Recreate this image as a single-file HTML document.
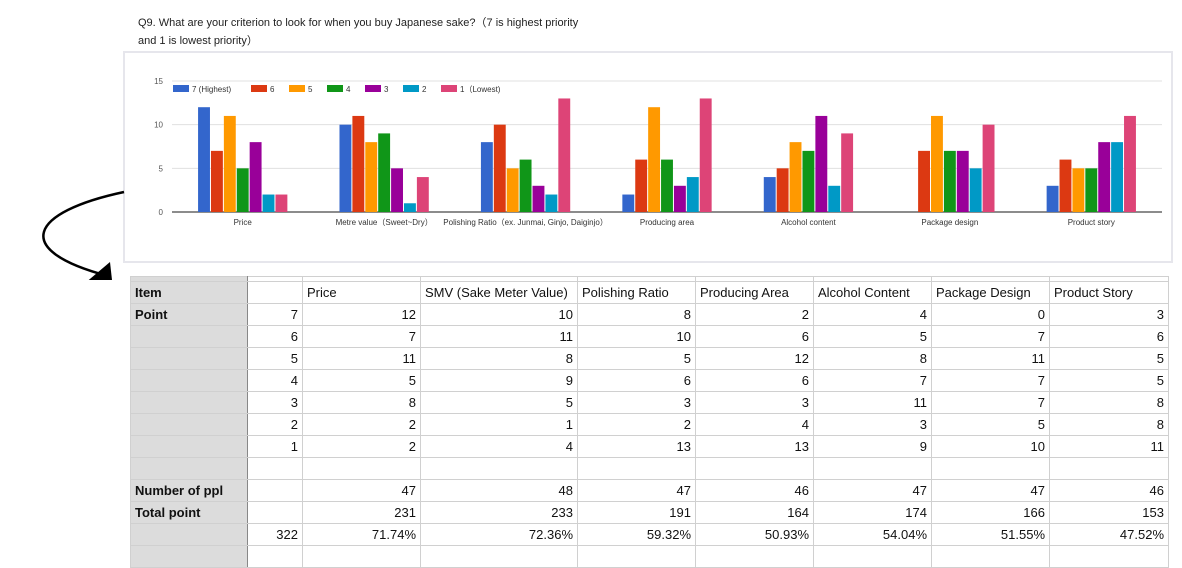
<!DOCTYPE html>
<html><head><meta charset="utf-8">
<style>
body{margin:0;width:1182px;height:558px;background:#fff;position:relative;overflow:hidden;font-family:"Liberation Sans",Arial,sans-serif}
.title{position:absolute;left:138px;top:14px;font-size:11px;line-height:18px;color:#222;white-space:nowrap}
#chart{position:absolute;left:0;top:0}
table{position:absolute;left:130px;top:276px;border-collapse:collapse;table-layout:fixed;font-size:13px;color:#111}
td{border:1px solid #d0d0d0;height:21px;padding:0 4px;white-space:nowrap;overflow:hidden}
td.l{background:#dcdcdc;font-weight:bold;border-right:1px solid #888}
td.n{text-align:right}
tr.top td{height:4px;padding:0}
</style></head><body>
<div class="title">Q9. What are your criterion to look for when you buy Japanese sake?（7 is highest priority<br>and 1 is lowest priority）</div>
<svg id="chart" width="1182" height="280">
<rect x="124" y="52" width="1048" height="210" fill="none" stroke="#e6e6ec" stroke-width="2"/>
<path d="M124,192 C30,212 10,250 108,276" fill="none" stroke="#000" stroke-width="2.5"/>
<polygon points="110,262 84,284 112,280" fill="#000"/>
</svg>
<table>
<colgroup><col style="width:117px"><col style="width:55px"><col style="width:118px"><col style="width:157px"><col style="width:118px"><col style="width:118px"><col style="width:118px"><col style="width:118px"><col style="width:119px"></colgroup>
<tr class="top"><td class="l"></td><td></td><td></td><td></td><td></td><td></td><td></td><td></td><td></td></tr>
<tr><td class="l">Item</td><td></td><td>Price</td><td>SMV (Sake Meter Value)</td><td>Polishing Ratio</td><td>Producing Area</td><td>Alcohol Content</td><td>Package Design</td><td>Product Story</td></tr>
<tr><td class="l">Point</td><td class="n">7</td><td class="n">12</td><td class="n">10</td><td class="n">8</td><td class="n">2</td><td class="n">4</td><td class="n">0</td><td class="n">3</td></tr>
<tr><td class="l"></td><td class="n">6</td><td class="n">7</td><td class="n">11</td><td class="n">10</td><td class="n">6</td><td class="n">5</td><td class="n">7</td><td class="n">6</td></tr>
<tr><td class="l"></td><td class="n">5</td><td class="n">11</td><td class="n">8</td><td class="n">5</td><td class="n">12</td><td class="n">8</td><td class="n">11</td><td class="n">5</td></tr>
<tr><td class="l"></td><td class="n">4</td><td class="n">5</td><td class="n">9</td><td class="n">6</td><td class="n">6</td><td class="n">7</td><td class="n">7</td><td class="n">5</td></tr>
<tr><td class="l"></td><td class="n">3</td><td class="n">8</td><td class="n">5</td><td class="n">3</td><td class="n">3</td><td class="n">11</td><td class="n">7</td><td class="n">8</td></tr>
<tr><td class="l"></td><td class="n">2</td><td class="n">2</td><td class="n">1</td><td class="n">2</td><td class="n">4</td><td class="n">3</td><td class="n">5</td><td class="n">8</td></tr>
<tr><td class="l"></td><td class="n">1</td><td class="n">2</td><td class="n">4</td><td class="n">13</td><td class="n">13</td><td class="n">9</td><td class="n">10</td><td class="n">11</td></tr>
<tr><td class="l"></td><td></td><td></td><td></td><td></td><td></td><td></td><td></td><td></td></tr>
<tr><td class="l">Number of ppl</td><td></td><td class="n">47</td><td class="n">48</td><td class="n">47</td><td class="n">46</td><td class="n">47</td><td class="n">47</td><td class="n">46</td></tr>
<tr><td class="l">Total point</td><td></td><td class="n">231</td><td class="n">233</td><td class="n">191</td><td class="n">164</td><td class="n">174</td><td class="n">166</td><td class="n">153</td></tr>
<tr><td class="l"></td><td class="n">322</td><td class="n">71.74%</td><td class="n">72.36%</td><td class="n">59.32%</td><td class="n">50.93%</td><td class="n">54.04%</td><td class="n">51.55%</td><td class="n">47.52%</td></tr>
<tr><td class="l"></td><td></td><td></td><td></td><td></td><td></td><td></td><td></td><td></td></tr>
</table>
<script>
const categories=["Price","Metre value（Sweet~Dry）","Polishing Ratio（ex. Junmai, Ginjo, Daiginjo）","Producing area","Alcohol content","Package design","Product story"];
const seriesNames=["7 (Highest)","6","5","4","3","2","1（Lowest)"];
const s7=[12,10,8,2,4,0,3];
const s6=[7,11,10,6,5,7,6];
const s5=[11,8,5,12,8,11,5];
const s4=[5,9,6,6,7,7,5];
const s3=[8,5,3,3,11,7,8];
const s2=[2,1,2,4,3,5,8];
const s1=[2,4,13,13,9,10,11];
const yTicks=[0,5,10,15];
const series=[s7,s6,s5,s4,s3,s2,s1];
const colors=["#3366cc","#dc3912","#ff9900","#109618","#990099","#0099c6","#dd4477"];
const svg=document.getElementById('chart');
const NS='http://www.w3.org/2000/svg';
const L=172,R=1162,Y0=212,Y15=81;
const y=v=>Y0-(v/15)*(Y0-Y15);
const band=(R-L)/categories.length;
const bw=12.9;
function mk(t,a){const e=document.createElementNS(NS,t);for(const k in a)e.setAttribute(k,a[k]);svg.appendChild(e);return e;}
yTicks.forEach(t=>{
  const g=mk('line',{x1:L,x2:R,y1:y(t),y2:y(t),stroke:t===0?'#666':'#e0e0e0','stroke-width':t===0?1.5:1});
  
  
  const tx=mk('text',{x:163,y:y(t)+3,'font-size':8,fill:'#555','text-anchor':'end','font-family':'Liberation Sans'});
  tx.textContent=t;
  
  
});
categories.forEach((c,i)=>{
  const cx=L+band*(i+0.5);
  series.forEach((s,j)=>{
    const v=s[i];
    if(v>0){
      const r=mk('rect',{x:cx-bw*3.5+j*bw+0.5,y:y(v),width:bw-1,height:Y0-y(v),fill:colors[j]});
      
      
    }
  });
  const t=mk('text',{x:cx,y:225,'font-size':8,fill:'#333','text-anchor':'middle','font-family':'Liberation Sans'});
  t.textContent=c;
  
  
});
let lx=173;
seriesNames.forEach((n,j)=>{
  const r=mk('rect',{x:lx,y:85,width:16,height:7,fill:colors[j]});
  
  
  const t=mk('text',{x:lx+19,y:92,'font-size':8,fill:'#333','font-family':'Liberation Sans'});
  t.textContent=n;
  
  
  lx+=19+n.length*4+15;
});
</script>
</body></html>
